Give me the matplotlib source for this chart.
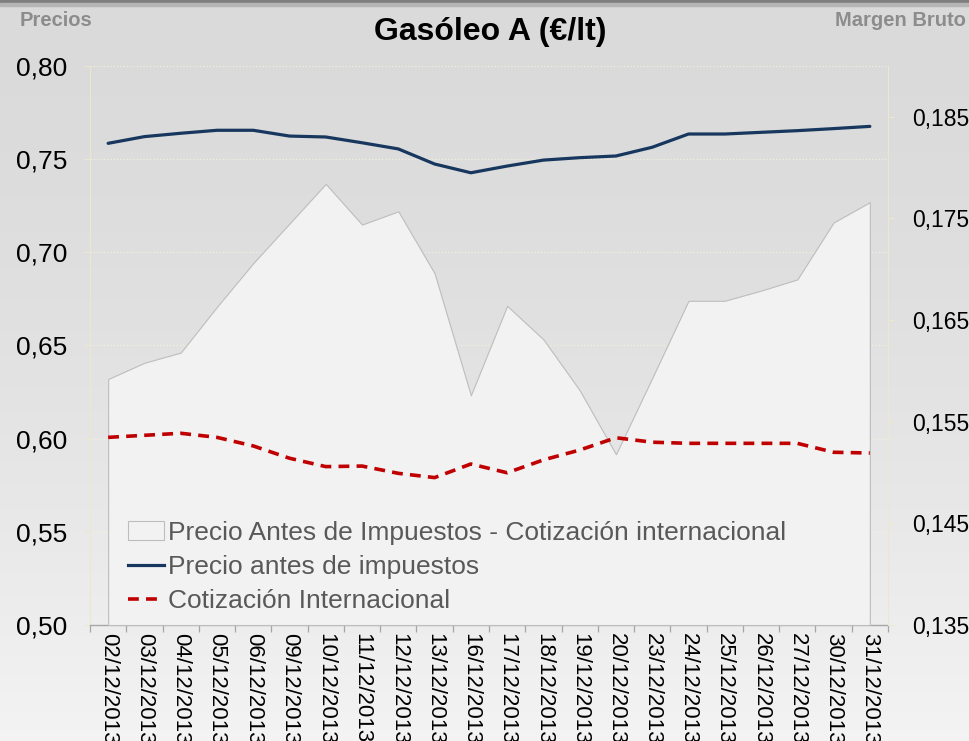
import matplotlib
matplotlib.use('Agg')
import matplotlib.pyplot as plt
import numpy as np
from matplotlib.patches import Patch
from matplotlib.lines import Line2D
from matplotlib.ticker import FuncFormatter, FixedLocator

plt.rcParams['font.family'] = ['Liberation Sans', 'DejaVu Sans']

# data
fechas = ['02/12/2013', '03/12/2013', '04/12/2013', '05/12/2013', '06/12/2013',
          '09/12/2013', '10/12/2013', '11/12/2013', '12/12/2013', '13/12/2013',
          '16/12/2013', '17/12/2013', '18/12/2013', '19/12/2013', '20/12/2013',
          '23/12/2013', '24/12/2013', '25/12/2013', '26/12/2013', '27/12/2013',
          '30/12/2013', '31/12/2013']
precio_antes_impuestos = [0.7585, 0.7621, 0.7639, 0.7655, 0.7655, 0.7624, 0.7619,
                          0.7588, 0.7555, 0.7474, 0.7427, 0.7463, 0.7495, 0.7508,
                          0.7517, 0.7564, 0.7635, 0.7635, 0.7644, 0.7653, 0.7664,
                          0.7676]
cotizacion_internacional = [0.6007, 0.6018, 0.6029, 0.6007, 0.5961, 0.5895, 0.5850,
                            0.5853, 0.5814, 0.5791, 0.5864, 0.5817, 0.5886, 0.5939,
                            0.6005, 0.5981, 0.5975, 0.5975, 0.5975, 0.5975, 0.5927,
                            0.5923]
margen_bruto = [0.1592, 0.1608, 0.1618, 0.1663, 0.1706, 0.1745, 0.1784, 0.1744,
                0.1757, 0.1696, 0.1576, 0.1664, 0.1631, 0.1581, 0.1518, 0.1593,
                0.1669, 0.1669, 0.1679, 0.1690, 0.1746, 0.1766]

izq_ticks = [0.50, 0.55, 0.60, 0.65, 0.70, 0.75, 0.80]
der_ticks = [0.135, 0.145, 0.155, 0.165, 0.175, 0.185]

W, H = 970, 741
fig = plt.figure(figsize=(W / 100, H / 100), dpi=100)

# background gradient
bg = fig.add_axes([0, 0, 1, 1], zorder=-10)
grad = np.linspace(0, 1, 300) ** 1.6
col = 0.855 + (0.955 - 0.855) * grad
img = np.repeat(col[:, None], 10, axis=1)
bg.imshow(np.dstack([img, img, img]), aspect='auto', extent=[0, 1, 0, 1], origin='upper')
bg.axhspan(1 - 3 / H, 1, color='#7f7f7f')
bg.axhspan(1 - 6 / H, 1 - 3 / H, color='#b5b5b5')
bg.set_xlim(0, 1)
bg.set_ylim(0, 1)
bg.axis('off')

pos = [90 / W, 1 - 625 / H, (888 - 90) / W, (625 - 66) / H]
x = np.arange(len(fechas))

# primary axis: ticks, grid
ax1 = fig.add_axes(pos)
ax1.patch.set_visible(False)
ax1.set_xlim(-0.5, len(fechas) - 0.5)
ax1.set_ylim(0.50, 0.80)
ax1.set_yticks(izq_ticks)
ax1.yaxis.set_major_formatter(FuncFormatter(lambda v, p: f'{v:.2f}'.replace('.', ',')))
ax1.grid(axis='y', color='#f3f0de', linestyle=':', linewidth=0.9)
ax1.set_axisbelow(True)
ax1.set_xticks(x)
ax1.set_xticklabels(fechas, rotation=-90, fontsize=16, va='top', ha='center')
ax1.xaxis.set_minor_locator(FixedLocator(np.arange(-0.5, len(fechas), 1.0)))
ax1.tick_params(axis='x', which='major', length=0, pad=6)
ax1.tick_params(axis='x', which='minor', length=5, color='#a6a6a6', width=0.9)
ax1.tick_params(axis='y', length=4, color='#ece8cf', labelsize=19, pad=12.5)
for s in ['top', 'right']:
    ax1.spines[s].set_visible(False)
ax1.spines['left'].set_color('#ece8cf')
ax1.spines['bottom'].set_color('#a6a6a6')
ax1.spines['bottom'].set_linewidth(1.0)

# secondary axis: area of margin
ax2 = ax1.twinx()
ax2.set_ylim(0.135, 0.19)
ax2.set_yticks(der_ticks)
ax2.yaxis.set_major_formatter(FuncFormatter(lambda v, p: f'{v:.3f}'.replace('.', ',')))
ax2.tick_params(axis='y', length=4, color='#ece8cf', labelsize=16.5, pad=13.5)
for s in ['top', 'left', 'bottom']:
    ax2.spines[s].set_visible(False)
ax2.spines['right'].set_color('#ece8cf')
ax2.fill_between(x, 0.135, margen_bruto, facecolor='#f2f2f2', edgecolor='#bdbdbd',
                 linewidth=0.8)

# lines on top
ax3 = fig.add_axes(pos)
ax3.patch.set_visible(False)
ax3.axis('off')
ax3.set_xlim(ax1.get_xlim())
ax3.set_ylim(ax1.get_ylim())
ax3.plot(x, precio_antes_impuestos, color='#17375e', linewidth=2.3, solid_capstyle='round')
ax3.plot(x, cotizacion_internacional, color='#c00000', linewidth=2.6, dashes=(3, 2))

handles = [Patch(facecolor='#f2f2f2', edgecolor='#bdbdbd', linewidth=0.8),
           Line2D([], [], color='#17375e', linewidth=2.3),
           Line2D([], [], color='#c00000', linewidth=2.6, dashes=(3, 2))]
labels = ['Precio Antes de Impuestos - Cotización internacional',
          'Precio antes de impuestos', 'Cotización Internacional']
leg = ax3.legend(handles, labels, loc='lower left', bbox_to_anchor=(0.041, 0.012),
                 frameon=False, fontsize=19, handlelength=1.35, handletextpad=0.15,
                 labelspacing=0.38, borderpad=0.2, borderaxespad=0)
for t in leg.get_texts():
    t.set_color('#595959')

fig.text(490 / W, 1 - 32 / H, 'Gasóleo A (€/lt)', fontsize=23, fontweight='bold',
         ha='center', va='center', color='black')
fig.text(20 / W, 1 - 20 / H, 'Precios', fontsize=14.5, fontweight='bold',
         ha='left', va='center', color='#8c8c8c')
fig.text(966 / W, 1 - 20 / H, 'Margen Bruto', fontsize=14.5, fontweight='bold',
         ha='right', va='center', color='#8c8c8c')

fig.savefig('out.png', dpi=100)
plt.close(fig)
